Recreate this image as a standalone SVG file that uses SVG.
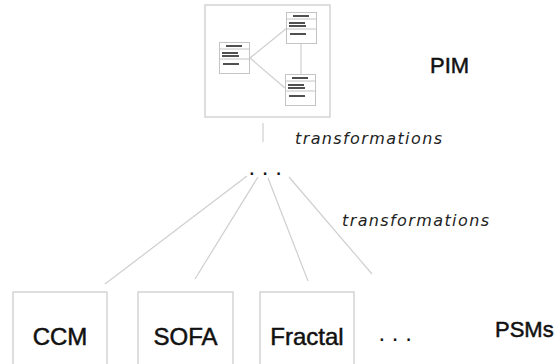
<svg xmlns="http://www.w3.org/2000/svg" xmlns:xlink="http://www.w3.org/1999/xlink" width="560" height="364" viewBox="0 0 560 364">
<style>
.box{fill:#fff;stroke:#d4d4d4;stroke-width:1.5}
.cb{fill:#fff;stroke:#c4c4c4;stroke-width:1}
.bar{stroke:#505050;stroke-width:2}
.sep{stroke:#c4c4c4;stroke-width:1}
.ln{stroke:#cfcfcf;stroke-width:1.2;fill:none}
.lbl{font-family:"Liberation Sans",Arial,sans-serif;fill:#111;stroke:#111;stroke-width:0.5}
.dots{font-family:"Liberation Sans",Arial,sans-serif;fill:#111}
.tr{font-family:"DejaVu Sans",sans-serif;font-style:italic;font-size:16px;fill:#222}
</style>
<defs>
<g id="cls">
<rect class="cb" x="0.5" y="0.5" width="30" height="31"/>
<line class="bar" x1="7" y1="4" x2="23" y2="4"/>
<line class="sep" x1="0.5" y1="7" x2="30.5" y2="7"/>
<line class="bar" x1="3" y1="11" x2="19" y2="11"/>
<line class="bar" x1="3" y1="14" x2="20" y2="14"/>
<line class="sep" x1="0.5" y1="17" x2="30.5" y2="17"/>
<line class="bar" x1="4" y1="22" x2="20" y2="22"/>
</g>
</defs>
<rect width="560" height="364" fill="#fff"/>
<g id="connectors">
<line class="ln" x1="263" y1="123" x2="263" y2="142"/>
<line class="ln" x1="247" y1="176" x2="105" y2="284"/>
<line class="ln" x1="258" y1="177" x2="195" y2="279"/>
<line class="ln" x1="268" y1="178" x2="308" y2="281"/>
<line class="ln" x1="289" y1="177" x2="372" y2="274"/>
</g>
<g id="pim">
<rect class="box" x="205" y="5" width="125" height="112"/>
<line class="ln" x1="250" y1="58" x2="287" y2="28"/>
<line class="ln" x1="250" y1="58" x2="285" y2="88"/>
<line class="ln" x1="301" y1="44" x2="301" y2="75"/>
<use xlink:href="#cls" x="219" y="42"/>
<use xlink:href="#cls" x="286" y="12"/>
<use xlink:href="#cls" x="285" y="74"/>
<text class="lbl" x="430" y="73" font-size="22">PIM</text>
</g>
<g id="top-dots"><text class="dots" x="248.5" y="174.5" font-size="24">. . .</text></g>
<g id="trans1"><text class="tr" x="295" y="144" textLength="147" lengthAdjust="spacing">transformations</text></g>
<g id="trans2"><text class="tr" x="342" y="226" textLength="147" lengthAdjust="spacing">transformations</text></g>
<g id="ccm">
<rect class="box" x="13" y="292" width="94" height="90"/>
<text class="lbl" x="60" y="345" font-size="24" text-anchor="middle">CCM</text>
</g>
<g id="sofa">
<rect class="box" x="138" y="292" width="95" height="90"/>
<text class="lbl" x="185.5" y="345" font-size="24" text-anchor="middle">SOFA</text>
</g>
<g id="fractal">
<rect class="box" x="260" y="292" width="94" height="90"/>
<text class="lbl" x="307" y="345" font-size="24" text-anchor="middle">Fractal</text>
</g>
<g id="more"><text class="dots" x="378.5" y="340.5" font-size="24">. . .</text></g>
<g id="psms"><text class="lbl" x="495" y="337" font-size="22">PSMs</text></g>
</svg>
